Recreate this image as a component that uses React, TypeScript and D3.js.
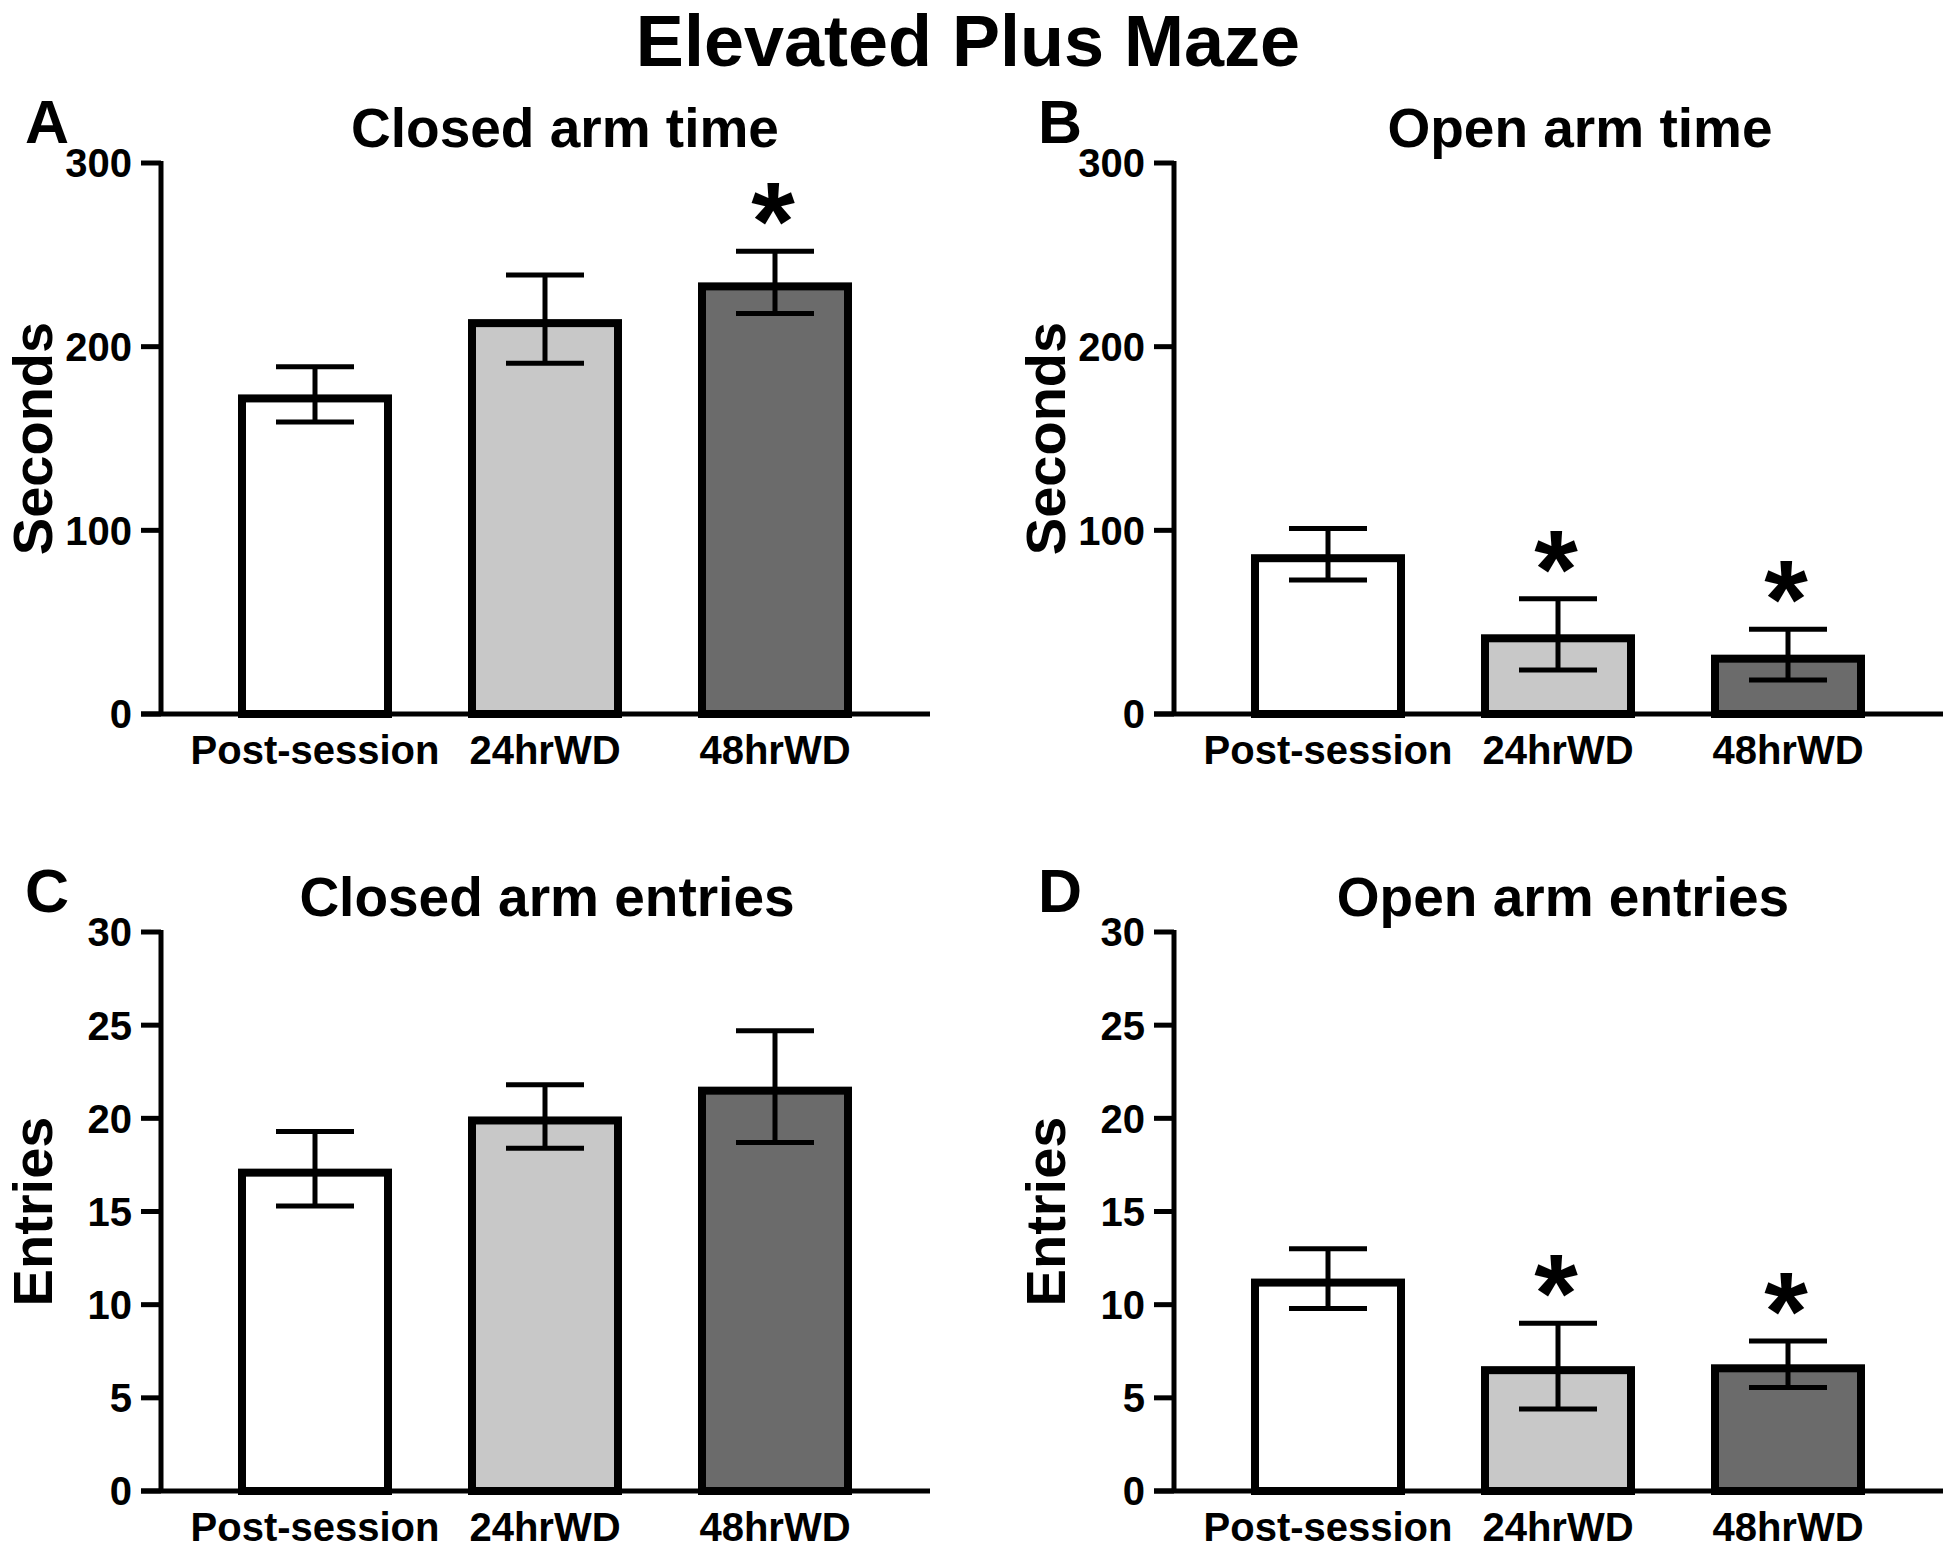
import React from "react";
import * as d3 from "d3";

const categories = ["Post-session", "24hrWD", "48hrWD"];
const barFills = ["#ffffff", "#c8c8c8", "#6b6b6b"];

const closedTimeMean = [174, 215, 235];
const closedTimeSem = [15, 24, 17];
const closedTimeSig = [false, false, true];

const openTimeMean = [87, 43.4, 32.3];
const openTimeSem = [14, 19.4, 13.8];
const openTimeSig = [false, true, true];

const closedEntriesMean = [17.3, 20.1, 21.7];
const closedEntriesSem = [2.0, 1.7, 3.0];
const closedEntriesSig = [false, false, false];

const openEntriesMean = [11.4, 6.7, 6.8];
const openEntriesSem = [1.6, 2.3, 1.25];
const openEntriesSig = [false, true, true];

const timeTicks = [0, 100, 200, 300];
const entryTicks = [0, 5, 10, 15, 20, 25, 30];

const FONT = "'Liberation Sans', Arial, Helvetica, sans-serif";

type PanelProps = {
  letter: string;
  title: string;
  yLabel: string;
  means: number[];
  sems: number[];
  sig: boolean[];
  ticks: number[];
  axisX: number;
  yTop: number;
  y0: number;
  xEnd: number;
  titleDx: number;
};

function Panel(p: PanelProps) {
  const yMax = p.ticks[p.ticks.length - 1];
  const y = d3.scaleLinear().domain([0, yMax]).range([p.y0, p.yTop]);
  const x = d3
    .scalePoint<string>()
    .domain(categories)
    .range([p.axisX + 154, p.axisX + 614]);
  const barW = 146;
  const sw = 8;
  const capHalf = 39;
  return (
    <g>
      <text x={p.axisX - 136} y={p.yTop - 20} fontSize={61} fontWeight="bold" fontFamily={FONT}>
        {p.letter}
      </text>
      <text
        x={p.axisX + p.titleDx}
        y={p.yTop - 16}
        fontSize={55}
        fontWeight="bold"
        fontFamily={FONT}
        textAnchor="middle"
      >
        {p.title}
      </text>
      <text
        transform={`translate(${p.axisX - 109},${(p.y0 + p.yTop) / 2}) rotate(-90)`}
        fontSize={56}
        fontWeight="bold"
        fontFamily={FONT}
        textAnchor="middle"
      >
        {p.yLabel}
      </text>
      {categories.map((c, i) => {
        const cx = x(c) as number;
        const top = y(p.means[i]);
        const hi = y(p.means[i] + p.sems[i]);
        const lo = y(p.means[i] - p.sems[i]);
        return (
          <g key={c}>
            <rect
              x={cx - barW / 2}
              y={top + sw / 2}
              width={barW}
              height={p.y0 - top - sw / 2}
              fill={barFills[i]}
              stroke="#000"
              strokeWidth={sw}
            />
            <line x1={cx} x2={cx} y1={hi} y2={lo} stroke="#000" strokeWidth={5} />
            <line x1={cx - capHalf} x2={cx + capHalf} y1={hi} y2={hi} stroke="#000" strokeWidth={5} />
            <line x1={cx - capHalf} x2={cx + capHalf} y1={lo} y2={lo} stroke="#000" strokeWidth={5} />
            {p.sig[i] && (
              <text
                x={cx - 2}
                y={hi + 9}
                fontSize={112}
                fontWeight="bold"
                fontFamily={FONT}
                textAnchor="middle"
              >
                *
              </text>
            )}
            <text
              x={cx}
              y={p.y0 + 50}
              fontSize={40}
              fontWeight="bold"
              fontFamily={FONT}
              textAnchor="middle"
            >
              {c}
            </text>
          </g>
        );
      })}
      <line x1={p.axisX} x2={p.axisX} y1={p.yTop - 2} y2={p.y0} stroke="#000" strokeWidth={5} />
      <line x1={p.axisX - 20} x2={p.xEnd} y1={p.y0} y2={p.y0} stroke="#000" strokeWidth={5} />
      {p.ticks.map((t) => (
        <g key={t}>
          <line x1={p.axisX - 20} x2={p.axisX} y1={y(t)} y2={y(t)} stroke="#000" strokeWidth={5} />
          <text
            x={p.axisX - 29}
            y={y(t)}
            dy="0.36em"
            fontSize={40}
            fontWeight="bold"
            fontFamily={FONT}
            textAnchor="end"
          >
            {t}
          </text>
        </g>
      ))}
    </g>
  );
}

export default function App() {
  return (
    <svg
      width={1950}
      height={1549}
      style={{ position: "absolute", left: 0, top: 0, display: "block", background: "#fff" }}
    >
      <rect width={1950} height={1549} fill="#fff" />
      <text x={968} y={66} fontSize={72} fontWeight="bold" fontFamily={FONT} textAnchor="middle">
        Elevated Plus Maze
      </text>
      <Panel
        letter="A"
        title="Closed arm time"
        yLabel="Seconds"
        means={closedTimeMean}
        sems={closedTimeSem}
        sig={closedTimeSig}
        ticks={timeTicks}
        axisX={161}
        yTop={163}
        y0={714}
        xEnd={930}
        titleDx={404}
      />
      <Panel
        letter="B"
        title="Open arm time"
        yLabel="Seconds"
        means={openTimeMean}
        sems={openTimeSem}
        sig={openTimeSig}
        ticks={timeTicks}
        axisX={1174}
        yTop={163}
        y0={714}
        xEnd={1943}
        titleDx={406}
      />
      <Panel
        letter="C"
        title="Closed arm entries"
        yLabel="Entries"
        means={closedEntriesMean}
        sems={closedEntriesSem}
        sig={closedEntriesSig}
        ticks={entryTicks}
        axisX={161}
        yTop={932}
        y0={1491}
        xEnd={930}
        titleDx={386}
      />
      <Panel
        letter="D"
        title="Open arm entries"
        yLabel="Entries"
        means={openEntriesMean}
        sems={openEntriesSem}
        sig={openEntriesSig}
        ticks={entryTicks}
        axisX={1174}
        yTop={932}
        y0={1491}
        xEnd={1943}
        titleDx={389}
      />
    </svg>
  );
}
